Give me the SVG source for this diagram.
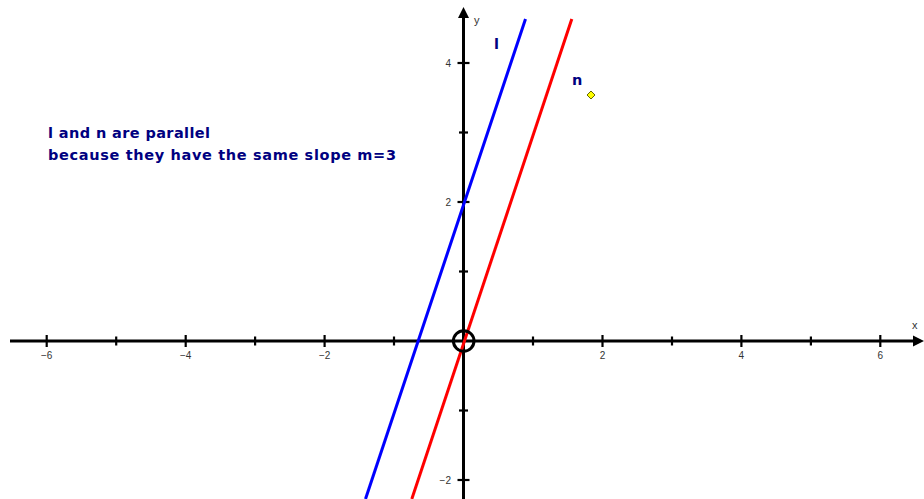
<svg xmlns="http://www.w3.org/2000/svg" width="924" height="499" viewBox="0 0 924 499">
<style>
.ax{stroke:#000;stroke-width:3;fill:none}
.tk{stroke:#000;stroke-width:2.2}
.lbl{font-family:"Liberation Sans",Arial,sans-serif;font-size:10px;fill:#333}
.nm{font-family:"DejaVu Sans",Verdana,sans-serif;font-size:14.5px;font-weight:bold;fill:#000080}
</style>
<rect width="924" height="499" fill="#fff"/>
<g id="axes">
<line class="ax" x1="10" y1="341" x2="916" y2="341"/>
<polygon points="924,341 913,335.5 913,346.5" fill="#000"/>
<line class="ax" x1="463.5" y1="16" x2="463.5" y2="499"/>
<polygon points="463.5,7 458,18 469,18" fill="#000"/>
<g class="tk">
<line x1="46.7" y1="335" x2="46.7" y2="347"/>
<line x1="116.2" y1="336.5" x2="116.2" y2="345.5"/>
<line x1="185.7" y1="335" x2="185.7" y2="347"/>
<line x1="255.1" y1="336.5" x2="255.1" y2="345.5"/>
<line x1="324.6" y1="335" x2="324.6" y2="347"/>
<line x1="394" y1="336.5" x2="394" y2="345.5"/>
<line x1="533" y1="336.5" x2="533" y2="345.5"/>
<line x1="602.5" y1="335" x2="602.5" y2="347"/>
<line x1="672" y1="336.5" x2="672" y2="345.5"/>
<line x1="741.4" y1="335" x2="741.4" y2="347"/>
<line x1="810.9" y1="336.5" x2="810.9" y2="345.5"/>
<line x1="880.3" y1="335" x2="880.3" y2="347"/>
<line x1="457.5" y1="63" x2="469.5" y2="63"/>
<line x1="459" y1="132.5" x2="468" y2="132.5"/>
<line x1="457.5" y1="202" x2="469.5" y2="202"/>
<line x1="459" y1="271.5" x2="468" y2="271.5"/>
<line x1="459" y1="410.5" x2="468" y2="410.5"/>
<line x1="457.5" y1="480" x2="469.5" y2="480"/>
</g>
<g class="lbl" text-anchor="middle">
<text x="46.7" y="359">−6</text>
<text x="185.7" y="359">−4</text>
<text x="324.6" y="359">−2</text>
<text x="602.5" y="359">2</text>
<text x="741.4" y="359">4</text>
<text x="880.3" y="359">6</text>
</g>
<g class="lbl" text-anchor="end">
<text x="451" y="66.5">4</text>
<text x="451" y="205.5">2</text>
<text x="451" y="483.5">−2</text>
</g>
<text class="lbl" x="912" y="329" style="font-size:11px">x</text>
<text class="lbl" x="474" y="24" style="font-size:11px">y</text>
</g>
<g id="connectors">
<line id="line-l" x1="525.5" y1="19" x2="365.5" y2="499" stroke="#0000ff" stroke-width="3"/>
<line id="line-n" x1="571.8" y1="19" x2="411.8" y2="499" stroke="#ff0000" stroke-width="3"/>
</g>
<g id="origin">
<circle cx="463.7" cy="341" r="10.3" fill="none" stroke="#000" stroke-width="3"/>
</g>
<g id="label-l"><text class="nm" x="494" y="49">l</text></g>
<g id="label-n"><text class="nm" x="572" y="85">n</text></g>
<g id="point"><polygon points="591,91 595,95 591,99 587,95" fill="#ffff00" stroke="#666600" stroke-width="1"/></g>
<g id="caption">
<text class="nm" x="48" y="138" textLength="162">l and n are parallel</text>
<text class="nm" x="48" y="160" textLength="348">because they have the same slope m=3</text>
</g>
</svg>
